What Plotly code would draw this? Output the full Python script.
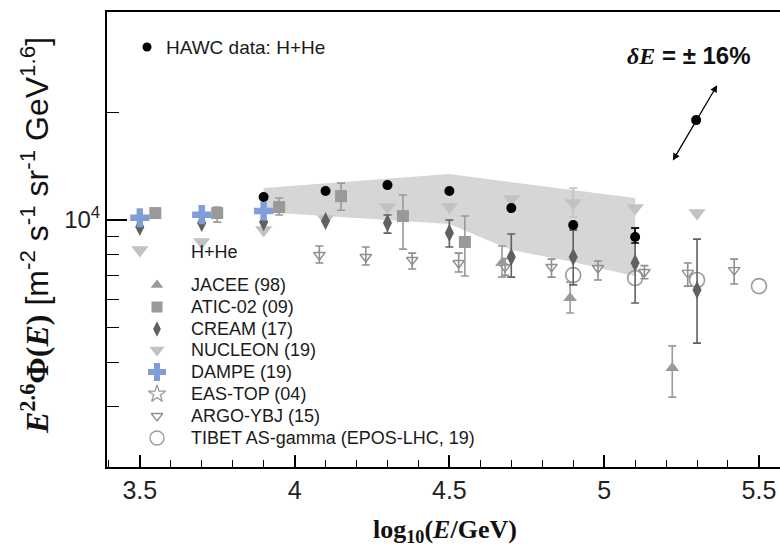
import plotly.graph_objects as go
import numpy as np

# ---------------- data (log10(E/GeV), E^2.6 flux) ----------------
hawc_x = [3.9, 4.1, 4.3, 4.5, 4.7, 4.9, 5.1]
hawc_y = [11600, 12060, 12530, 12060, 10800, 9680, 8960]
hawc_hi = [None, None, None, None, None, None, 9500]
hawc_lo = [None, None, None, None, None, None, 8620]

band_up_x = [3.9, 4.5, 5.1]
band_up = [12290, 13450, 11530]
band_lo_x = [3.9, 4.5, 4.7, 4.9, 5.1]
band_lo = [10530, 9750, 8240, 7630, 6960]

dampe_x = [3.5, 3.7, 3.9]
dampe_y = [10150, 10350, 10600]

atic_x = [3.55, 3.75, 3.95, 4.15, 4.35, 4.55]
atic_y = [10460, 10460, 10870, 11670, 10260, 8680]
atic_hi = [None, 10870, 11530, 12690, 11750, 10260]
atic_lo = [None, 9870, 10330, 10650, 8290, 6970]

cream_x = [3.5, 3.7, 3.9, 4.1, 4.3, 4.5, 4.7, 4.9, 5.1, 5.3]
cream_y = [9560, 9810, 9870, 9940, 9810, 9200, 7880, 7880, 7580, 6370]
cream_hi = [None, None, None, None, 10330, 10000, 9140, 9370, 9500, 8840]
cream_lo = [None, None, None, None, 9190, 8400, 6920, 6580, 5855, 4520]

nucleon_x = [3.5, 3.7, 3.9, 4.1, 4.3, 4.5, 4.7, 4.9, 5.1, 5.3]
nucleon_y = [8240, 8680, 9380, 10070, 10870, 10870, 11450, 11160, 10800, 10460]
nucleon_hi = [None, None, None, None, None, None, None, 12290, None, None]
nucleon_lo = [None, None, None, None, None, None, None, 10200, None, None]

argo_x = [4.08, 4.23, 4.38, 4.53, 4.68, 4.83, 4.98, 5.13, 5.27, 5.42]
argo_y = [7980, 7880, 7730, 7580, 7390, 7390, 7340, 7150, 7110, 7240]
argo_hi = [8460, 8400, 8080, 8080, 7800, 7770, 7680, 7450, 7580, 7770]
argo_lo = [7580, 7480, 7290, 7150, 7000, 6920, 6790, 6850, 6530, 6620]

tibet_x = [4.9, 5.1, 5.3, 5.5]
tibet_y = [7010, 6880, 6790, 6530]

jacee_x = [4.67, 4.89, 5.22]
jacee_y = [7580, 6050, 3850]
jacee_hi = [8460, 6700, 4440]
jacee_lo = [6920, 5490, 3190]

# energy-scale uncertainty marker
de_x = [5.297]
de_y = [19060]
de_arrow_x = [5.219, 5.365]
de_arrow_y = [14540, 23880]

legend_labels = ["JACEE (98)", "ATIC-02 (09)", "CREAM (17)", "NUCLEON (19)",
                 "DAMPE (19)", "EAS-TOP (04)", "ARGO-YBJ (15)",
                 "TIBET AS-gamma (EPOS-LHC, 19)"]

# ---------------- layout geometry (pixels) ----------------
W, H = 780, 560
L, R, T, B = 107, 780, 12, 467


def pxx(x):
    return (x - L) / (R - L)


def pxy(y):
    return (B - y) / (B - T)


def errs(y, hi, lo):
    plus = [None if h is None else h - v for v, h in zip(y, hi)]
    minus = [None if l is None else v - l for v, l in zip(y, lo)]
    return plus, minus


fig = go.Figure()

# band
fig.add_trace(go.Scatter(
    x=band_up_x + band_lo_x[::-1], y=band_up + band_lo[::-1],
    fill="toself", fillcolor="#d6d6d6", line=dict(width=0), mode="lines",
    showlegend=False, hoverinfo="skip"))


def add_series(x, y, symbol, size, color, hi=None, lo=None, lw=0, open_=False):
    kw = {}
    if hi is not None:
        p, m = errs(y, hi, lo)
        kw["error_y"] = dict(type="data", symmetric=False, array=p, arrayminus=m,
                             color=color, thickness=1.6, width=4)
    marker = dict(symbol=symbol, size=size, color=color)
    if open_:
        marker["line"] = dict(color=color, width=lw)
    else:
        marker["line"] = dict(width=0)
    fig.add_trace(go.Scatter(x=x, y=y, mode="markers", marker=marker,
                             showlegend=False, **kw))


add_series(tibet_x, tibet_y, "circle-open", 15, "#9a9a9a", lw=1.6, open_=True)
add_series(argo_x, argo_y, "triangle-down-open", 10, "#8f8f8f", argo_hi, argo_lo, lw=1.4, open_=True)
add_series(jacee_x, jacee_y, "triangle-up", 12, "#9a9a9a", jacee_hi, jacee_lo)
add_series(nucleon_x, nucleon_y, "triangle-down", 15, "#c2c2c2", nucleon_hi, nucleon_lo)
add_series(atic_x, atic_y, "square", 12, "#999999", atic_hi, atic_lo)
add_series(cream_x, cream_y, "diamond-tall", 13, "#606060", cream_hi, cream_lo)
add_series(dampe_x, dampe_y, "cross", 16, "#7f9ed8")
add_series(hawc_x, hawc_y, "circle", 10, "#000000", hawc_hi, hawc_lo)
add_series(de_x, de_y, "circle", 10, "#000000")

# ---------------- legend keys (pixel overlay axis) ----------------
leg_y = [285, 307, 329, 350, 372, 394, 416, 438]
leg_sym = ["triangle-up", "square", "diamond-tall", "triangle-down", "cross",
           "star-open", "triangle-down-open", "circle-open"]
leg_col = ["#9a9a9a", "#999999", "#606060", "#c2c2c2", "#7f9ed8",
           "#9a9a9a", "#8f8f8f", "#9a9a9a"]
leg_size = [11, 11, 11, 13, 15, 13, 10, 14]
for yy, s, c, sz in zip(leg_y, leg_sym, leg_col, leg_size):
    is_open = s.endswith("open")
    fig.add_trace(go.Scatter(
        x=[157], y=[yy], xaxis="x2", yaxis="y2", mode="markers",
        marker=dict(symbol=s, size=sz, color=c,
                    line=dict(color=c, width=1.3 if is_open else 0)),
        showlegend=False, hoverinfo="skip"))
fig.add_trace(go.Scatter(x=[147], y=[47], xaxis="x2", yaxis="y2", mode="markers",
                         marker=dict(symbol="circle", size=9, color="black"),
                         showlegend=False, hoverinfo="skip"))

ann = []
for yy, lab in zip(leg_y, legend_labels):
    ann.append(dict(x=189, y=yy, xref="x2", yref="y2", text=lab, showarrow=False,
                    xanchor="left", yanchor="middle",
                    font=dict(family="Liberation Sans", size=18, color="#1a1a1a")))
ann.append(dict(x=189, y=252, xref="x2", yref="y2", text="H+He", showarrow=False,
                xanchor="left", yanchor="middle",
                font=dict(family="Liberation Sans", size=18, color="#1a1a1a")))
ann.append(dict(x=164, y=47, xref="x2", yref="y2", text="HAWC data: H+He", showarrow=False,
                xanchor="left", yanchor="middle",
                font=dict(family="Liberation Sans", size=19, color="#1a1a1a")))

# delta E text and arrow
ann.append(dict(x=689, y=55, xref="x2", yref="y2",
                text='<span style="font-family:Liberation Serif"><b><i>δE</i></b></span><b> = ± 16%</b>',
                showarrow=False, xanchor="center", yanchor="middle",
                font=dict(family="Liberation Sans", size=24, color="#111")))
ann.append(dict(x=de_arrow_x[1], y=float(np.log10(de_arrow_y[1])), xref="x", yref="y",
                ax=de_arrow_x[0], ay=float(np.log10(de_arrow_y[0])), axref="x", ayref="y",
                showarrow=True, arrowhead=2, arrowside="end+start", arrowsize=1.1,
                arrowwidth=1.3, arrowcolor="black", text=""))

# axis titles
ann.append(dict(x=pxx(35), y=pxy(236), xref="paper", yref="paper", textangle=-90,
                text='<span style="font-family:Liberation Serif"><b><i>E</i><sup>2.6</sup>Φ(<i>E</i>)</b></span>'
                     ' [m<sup>-2</sup> s<sup>-1</sup> sr<sup>-1</sup> GeV<sup>1.6</sup>]',
                showarrow=False, xanchor="center", yanchor="middle",
                font=dict(family="Liberation Sans", size=32, color="#111")))
ann.append(dict(x=pxx(445), y=pxy(531), xref="paper", yref="paper",
                text="<b>log<sub>10</sub>(<i>E</i>/GeV)</b>", showarrow=False,
                xanchor="center", yanchor="middle",
                font=dict(family="Liberation Serif", size=26, color="#111")))

fig.update_layout(
    width=W, height=H, margin=dict(l=L, r=W - R, t=T, b=H - B),
    paper_bgcolor="white", plot_bgcolor="white", showlegend=False,
    annotations=ann,
    xaxis=dict(range=[3.394, 5.568], tickmode="linear", tick0=3.5, dtick=0.5,
               ticks="inside", ticklen=12, tickwidth=1.6, tickcolor="black",
               showline=True, linecolor="black", linewidth=2, mirror=True,
               showgrid=False, zeroline=False,
               minor=dict(ticks="inside", dtick=0.1, tick0=3.5, ticklen=7,
                          tickwidth=1.4, tickcolor="black", showgrid=False),
               tickfont=dict(family="Liberation Sans", size=25, color="#222")),
    yaxis=dict(type="log", range=[3.308, 4.583], tickmode="array",
               tickvals=[10000], ticktext=["10<sup>4</sup>"],
               ticks="inside", ticklen=20, tickwidth=1.6, tickcolor="black",
               showline=True, linecolor="black", linewidth=2,
               showgrid=False, zeroline=False,
               minor=dict(ticks="inside", tickvals=[3000, 4000, 5000, 6000, 7000, 8000, 9000, 20000],
                          ticklen=12, tickwidth=1.4, tickcolor="black", showgrid=False),
               tickfont=dict(family="Liberation Sans", size=24, color="#222")),
    xaxis2=dict(range=[L, R], overlaying="x", visible=False, anchor="y2"),
    yaxis2=dict(range=[B, T], overlaying="y", visible=False, anchor="x2"),
)

fig.write_html("out.html")
